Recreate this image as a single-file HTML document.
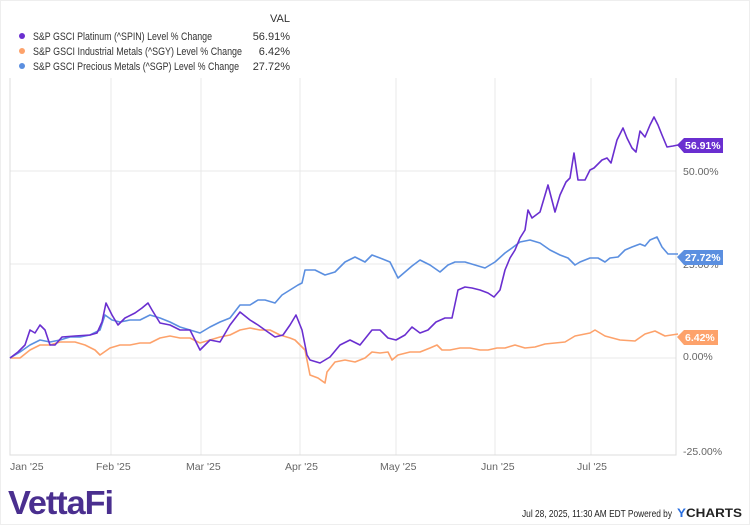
<!DOCTYPE html>
<html><head><meta charset="utf-8"><style>
body{margin:0;background:#fff;font-family:"Liberation Sans",sans-serif}
</style></head><body>
<svg width="750" height="525" xmlns="http://www.w3.org/2000/svg" font-family="Liberation Sans, sans-serif">
<rect width="750" height="525" fill="#fff"/>
<rect x="0.5" y="0.5" width="749" height="524" fill="none" stroke="#eee"/>
<g font-size="11" fill="#333">
<text x="290" y="22" text-anchor="end">VAL</text>
<circle cx="22" cy="36" r="3" fill="#6a2fd0"/><text x="33" y="40" textLength="179" lengthAdjust="spacingAndGlyphs">S&amp;P GSCI Platinum (^SPIN) Level % Change</text><text x="290" y="40" text-anchor="end">56.91%</text>
<circle cx="22" cy="51" r="3" fill="#fda26b"/><text x="33" y="55" textLength="209" lengthAdjust="spacingAndGlyphs">S&amp;P GSCI Industrial Metals (^SGY) Level % Change</text><text x="290" y="55" text-anchor="end">6.42%</text>
<circle cx="22" cy="66" r="3" fill="#5b8fe0"/><text x="33" y="70" textLength="206" lengthAdjust="spacingAndGlyphs">S&amp;P GSCI Precious Metals (^SGP) Level % Change</text><text x="290" y="70" text-anchor="end">27.72%</text>
</g>
<g stroke="#e8e8e8" stroke-width="1">
<line x1="10" y1="171" x2="676" y2="171"/><line x1="10" y1="264" x2="676" y2="264"/><line x1="10" y1="358" x2="676" y2="358"/>
<line x1="111" y1="78" x2="111" y2="455"/><line x1="201" y1="78" x2="201" y2="455"/><line x1="300" y1="78" x2="300" y2="455"/><line x1="396" y1="78" x2="396" y2="455"/><line x1="495" y1="78" x2="495" y2="455"/><line x1="591" y1="78" x2="591" y2="455"/>
</g>
<path d="M10 78V455H676V78" fill="none" stroke="#ddd"/>
<g font-size="10.5" fill="#666">
<text x="683" y="175">50.00%</text><text x="683" y="268">25.00%</text><text x="683" y="360">0.00%</text><text x="683" y="455">-25.00%</text>
<text x="10" y="470">Jan '25</text><text x="96" y="470">Feb '25</text><text x="186" y="470">Mar '25</text><text x="285" y="470">Apr '25</text><text x="380" y="470">May '25</text><text x="481" y="470">Jun '25</text><text x="577" y="470">Jul '25</text>
</g>
<g fill="none" stroke-width="1.6" stroke-linejoin="round">
<polyline stroke="#fda26b" points="10,358 20,358 30,350 40,345 50,345 60,342 75,342 85,345 95,350 100,355 110,348 120,345 130,345 140,343 150,343 160,338 170,336 180,338 190,338 200,343 210,340 220,337 230,335 240,330 250,328 260,330 270,330 280,335 290,338 295,340 300,345 305,350 310,375 318,378 325,383 327,372 335,362 345,360 355,362 365,358 372,352 380,353 388,352 392,360 398,355 410,352 420,352 430,348 437,345 442,350 450,350 460,348 470,348 480,350 488,350 497,348 505,348 515,345 525,348 535,347 545,344 555,343 565,342 575,336 590,333 595,330 605,336 620,340 635,341 645,334 655,331 665,336 678,334"/>
<polyline stroke="#5b8fe0" points="10,358 20,352 30,345 40,340 50,342 60,340 70,337 80,337 90,335 100,330 105,315 112,320 120,322 130,320 140,320 150,315 160,318 170,322 180,327 190,330 200,333 210,327 220,322 230,318 240,305 250,305 258,300 265,300 275,303 282,295 290,290 298,285 302,283 305,270 315,270 325,275 335,272 345,262 355,257 365,262 372,255 380,258 390,262 398,278 405,272 412,266 420,260 430,265 440,272 448,265 455,262 465,262 475,265 485,268 495,262 505,253 512,248 520,242 530,240 540,243 550,250 560,255 568,258 575,265 580,262 590,258 598,258 605,262 610,258 618,257 625,250 632,247 640,244 645,246 650,240 657,237 662,247 668,254 678,254"/>
<polyline stroke="#6a2fd0" points="10,358 18,352 25,345 30,330 35,333 40,325 45,330 50,345 55,345 62,337 75,336 90,335 97,333 102,322 106,303 112,315 118,325 125,318 135,313 142,308 148,303 152,310 160,323 170,325 180,330 190,330 196,342 200,350 210,340 220,342 230,325 240,312 250,320 258,325 265,330 275,337 283,335 290,325 296,315 302,330 307,355 310,360 320,363 330,357 340,345 350,340 360,345 372,330 380,330 388,338 396,340 405,335 412,327 420,333 428,330 436,322 445,318 452,318 458,290 465,287 472,288 480,290 488,293 494,297 500,290 505,270 510,258 515,250 520,238 525,230 528,210 532,218 540,212 548,185 555,212 560,195 566,182 570,178 574,153 578,180 585,180 590,170 594,168 597,165 602,160 607,158 611,163 617,140 623,128 627,138 632,148 636,152 640,131 645,137 650,125 654,117 658,125 662,135 667,147 673,146 678,145"/>
</g>
<g font-size="10.5" font-weight="bold" fill="#fff">
<path d="M677 145l7-7h39v15h-39z" fill="#6a2fd0"/><text x="685" y="149">56.91%</text>
<path d="M677 257l7-7h39v15h-39z" fill="#5b8fe0"/><text x="685" y="261">27.72%</text>
<path d="M677 337l7-7h34v15h-34z" fill="#fda26b"/><text x="685" y="341">6.42%</text>
</g>
<text x="8" y="514" font-size="33" font-weight="bold" fill="#4a2f8f" letter-spacing="-1" textLength="105" lengthAdjust="spacingAndGlyphs">VettaFi</text>
<text x="522" y="517" font-size="10.5" fill="#222" textLength="150" lengthAdjust="spacingAndGlyphs">Jul 28, 2025, 11:30 AM EDT Powered by</text>
<text x="677" y="517" font-size="12" font-weight="bold" fill="#222" textLength="65" lengthAdjust="spacingAndGlyphs"><tspan fill="#2a6fe0">Y</tspan>CHARTS</text>
</svg>
</body></html>
